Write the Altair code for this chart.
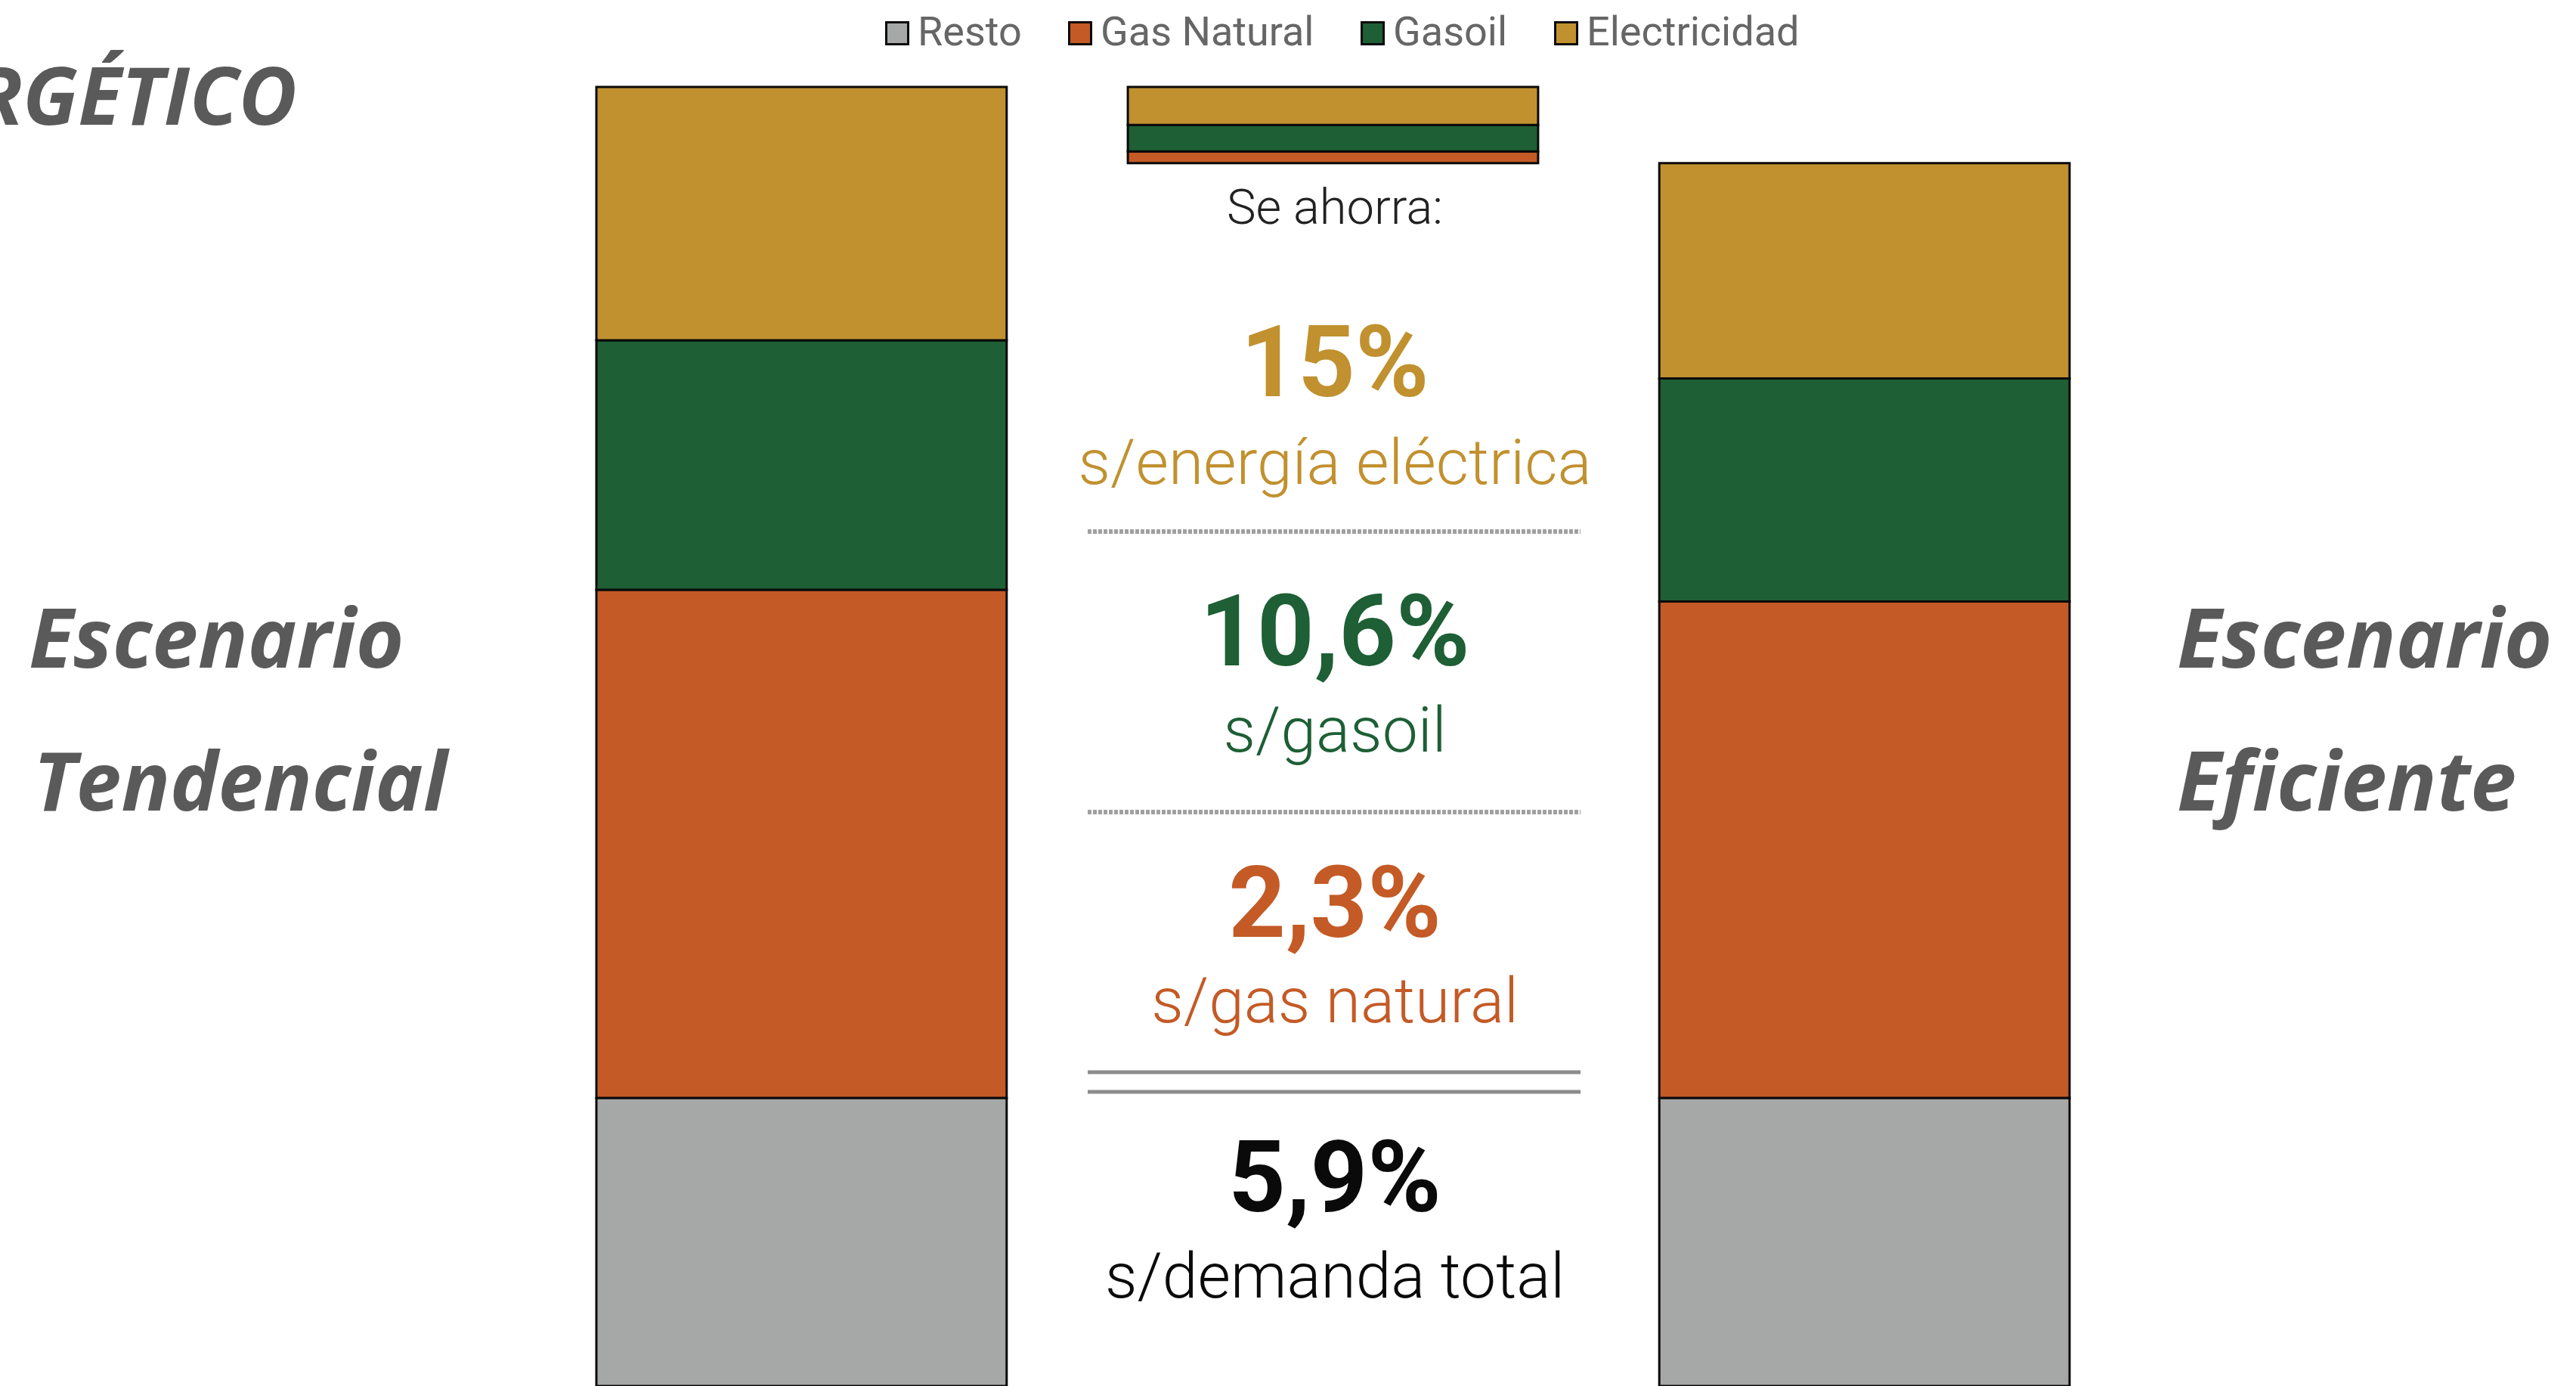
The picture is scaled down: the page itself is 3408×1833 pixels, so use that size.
import altair as alt
import pandas as pd

# --- data -------------------------------------------------------------
fuentes = ["Resto", "Gas Natural", "Gasoil", "Electricidad"]
colores = ["#A6A8A7", "#C45A26", "#1E5F35", "#C1912F"]
# consumo en el escenario tendencial (ktep)
tendencial = [381, 672, 330, 335]
# ahorro de cada fuente en el escenario eficiente (%)
ahorro_pct = [0.0, 2.3, 10.6, 15.0]
ahorro_total_pct = 5.9

escenarios = ["Escenario Tendencial", "Ahorro", "Escenario Eficiente"]

pct_textos = ["15%", "10,6%", "2,3%", "5,9%"]
sub_textos = ["s/energía eléctrica", "s/gasoil", "s/gas natural", "s/demanda total"]
txt_colores = ["#C1912F", "#1E5F35", "#C45A26", "#0A0A0A"]

# --- stacked segments ---------------------------------------------------
eficiente = [t * (1 - p / 100) for t, p in zip(tendencial, ahorro_pct)]
ahorro = [t - e for t, e in zip(tendencial, eficiente)]

rows = []
base = 0.0
for f, v in zip(fuentes, tendencial):
    rows.append({"escenario": escenarios[0], "fuente": f, "y0": base, "y1": base + v})
    base += v
base = 0.0
for f, v in zip(fuentes, eficiente):
    rows.append({"escenario": escenarios[2], "fuente": f, "y0": base, "y1": base + v})
    base += v
total_ef = base
base = total_ef
for f, v in zip(fuentes, ahorro):
    if v > 0:
        rows.append({"escenario": escenarios[1], "fuente": f, "y0": base, "y1": base + v})
        base += v
segmentos = pd.DataFrame(rows)

W, H = 3408, 1833
yscale = alt.Scale(domain=[0, H], nice=False, zero=False)
xscale = alt.Scale(domain=escenarios, range=[789, 2738], paddingInner=0.228, paddingOuter=0)

barras = alt.Chart(segmentos).mark_bar(stroke="#0A0A0A", strokeWidth=3).encode(
    x=alt.X("escenario:N", scale=xscale, axis=None),
    y=alt.Y("y0:Q", scale=yscale, axis=None),
    y2="y1:Q",
    color=alt.Color(
        "fuente:N",
        scale=alt.Scale(domain=fuentes, range=colores),
        legend=alt.Legend(
            title=None,
            orient="none",
            legendX=1160,
            legendY=17,
            direction="horizontal",
            symbolType="square",
            symbolSize=841,
            symbolStrokeColor="#0A0A0A",
            symbolStrokeWidth=3,
            symbolOpacity=1,
            labelFont="Roboto",
            labelFontSize=54,
            labelColor="#666666",
            labelOffset=0,
            columnPadding=50,
            padding=0,
            labelLimit=600,
        ),
    ),
)


def texto(t, x, y, size, color, font="Roboto", weight="normal", style="normal", align="center"):
    return alt.Chart(pd.DataFrame({"t": [t]})).mark_text(
        font=font, fontSize=size, fontWeight=weight, fontStyle=style,
        color=color, align=align, baseline="alphabetic",
    ).encode(x=alt.value(x), y=alt.value(y), text="t:N")


def regla(y, color, width, dash=None):
    kw = dict(color=color, strokeWidth=width)
    if dash:
        kw["strokeDash"] = dash
    return alt.Chart(pd.DataFrame({"a": [0]})).mark_rule(**kw).encode(
        x=alt.value(1439), x2=alt.value(2091), y=alt.value(y)
    )


cx = 1766
capas = [barras]
capas.append(texto("Se ahorra:", cx, 296, 65, "#222222", weight=300))

pct_base = [524, 880, 1239, 1602]
sub_base = [640, 994, 1352, 1716]
for p, s, c, yb, ys in zip(pct_textos, sub_textos, txt_colores, pct_base, sub_base):
    capas.append(texto(p, cx, yb, 132, c, weight="bold"))
    capas.append(texto(s, cx, ys, 84, c, weight=300))

capas.append(regla(703, "#A0A0A0", 6, [5, 2]))
capas.append(regla(1074, "#A0A0A0", 6, [5, 2]))
capas.append(regla(1418, "#8C8C8C", 5))
capas.append(regla(1444, "#8C8C8C", 5))

gris = "#5A5A5A"
capas.append(texto("ENERGÉTICO", 393, 165, 106, gris, font="Open Sans", weight="bold", style="italic", align="right"))
capas.append(texto("Escenario", 38, 883, 109, gris, font="Open Sans", weight="bold", style="italic", align="left"))
capas.append(texto("Tendencial", 44, 1072, 107, gris, font="Open Sans", weight="bold", style="italic", align="left"))
capas.append(texto("Escenario", 2880, 883, 109, gris, font="Open Sans", weight="bold", style="italic", align="left"))
capas.append(texto("Eficiente", 2880, 1072, 109, gris, font="Open Sans", weight="bold", style="italic", align="left"))

chart = alt.layer(*capas).properties(
    width=W,
    height=H,
    padding=0,
    autosize=alt.AutoSizeParams(type="none"),
    background="#FFFFFF",
).configure_view(stroke=None)

chart.save("out.html", embed_options={"renderer": "svg", "actions": False})
